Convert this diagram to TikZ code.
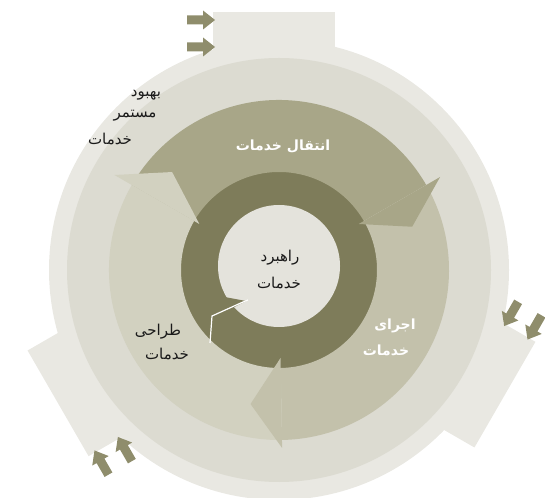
\documentclass[tikz,border=0pt]{standalone}
\usepackage{fontspec}
\newfontfamily\fa[Script=Arabic]{DejaVu Sans}
\TeXXeTstate=1
\definecolor{diskc}{HTML}{E9E8E2}
\definecolor{bandc}{HTML}{DCDBD1}
\definecolor{desc}{HTML}{D2D1C0}
\definecolor{opc}{HTML}{C3C1AB}
\definecolor{trc}{HTML}{A8A688}
\definecolor{darkc}{HTML}{7E7C5A}
\definecolor{corec}{HTML}{E4E3DC}
\definecolor{smallc}{HTML}{8F8D6C}
\definecolor{txtc}{HTML}{1A1A1A}
\tikzset{
  lbl/.style={font=\fa\fontsize{15}{17}\selectfont, text=txtc, inner sep=0pt},
  wlbl/.style={font=\fa\bfseries\fontsize{14}{16}\selectfont, text=white, inner sep=0pt},
  inarrow/.style={fill=smallc},
}
\newcommand{\rtl}[1]{\beginR #1\endR}
\begin{document}
\begin{tikzpicture}[x=1pt,y=1pt]
\useasboundingbox (0,0) rectangle (545,497);
\coordinate (C) at (279,227);
% outer disk with three tabs
\fill[diskc] (C) circle[radius=230];
\foreach \a in {0,-120,-240}{
  \begin{scope}[shift={(C)},rotate=\a]
    \fill[diskc] (-66,150) -- (56,150) -- (56,258) -- (-66,258) -- cycle;
    \foreach \yy in {250,223}{
      \fill[inarrow] (-92,\yy-4.5) -- (-76,\yy-4.5) -- (-76,\yy-9.5) -- (-64,\yy) -- (-76,\yy+9.5) -- (-76,\yy+4.5) -- (-92,\yy+4.5) -- cycle;
    }
  \end{scope}
}
% second band
\fill[bandc] (C) circle[radius=212];
% dark ring and core
\fill[darkc] (C) circle[radius=98.5];
\fill[corec] (279,231) circle[radius=61];
\begin{scope}[shift={(C)}]
  % bodies
  \fill[trc] (150:98) arc[start angle=150,end angle=30,radius=98] -- (30:170) arc[start angle=30,end angle=150,radius=170] -- cycle;
  \fill[opc] (30:98) arc[start angle=30,end angle=-89,radius=98] -- (-89:170) arc[start angle=-89,end angle=30,radius=170] -- cycle;
  \fill[desc] (-89:98) arc[start angle=-89,end angle=-210,radius=98] -- (-210:170) arc[start angle=-210,end angle=-89,radius=170] -- cycle;
  % heads
  \fill[trc] (30:92) -- (30:186) -- (18:140) -- cycle;
  \fill[opc] (-89:88) -- (-89:178) -- (-102:137) -- cycle;
  \fill[desc] (150:92) -- (150:190) -- (137.5:145) -- cycle;
\end{scope}
% head of the dark ring, outlined in white
\fill[darkc] (246,196) -- (214,202) -- (213,179) -- cycle;
\draw[white, line width=1.2pt] (248,197) -- (243,195) -- (212,181) -- (210,154);
% labels
\node[lbl] (csi1) at (146,402) {\rtl{بهبود}};
\node[lbl] (csi2) at (135,381) {\rtl{مستمر}};
\node[lbl] (csi3) at (110,358) {\rtl{خدمات}};
\node[wlbl] (tr) at (283,351) {\rtl{انتقال خدمات}};
\node[lbl] (st1) at (280,239) {\rtl{راهبرد}};
\node[lbl] (st2) at (279,214) {\rtl{خدمات}};
\node[lbl] (de1) at (158,165) {\rtl{طراحی}};
\node[lbl] (de2) at (167,143) {\rtl{خدمات}};
\node[wlbl] (op1) at (395,171) {\rtl{اجرای}};
\node[wlbl] (op2) at (386,147) {\rtl{خدمات}};
\end{tikzpicture}
\end{document}
